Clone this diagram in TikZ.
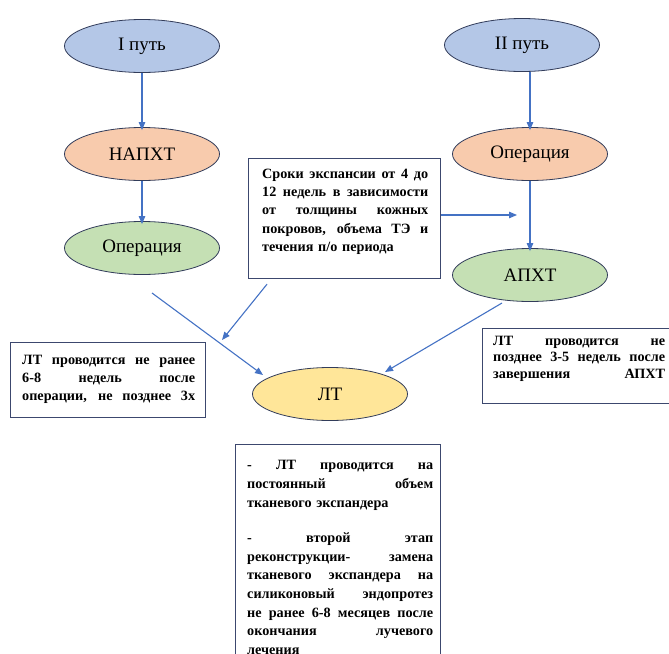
\documentclass[tikz,border=0pt]{standalone}
\usepackage{fontspec}
\setmainfont{Liberation Serif}
\usetikzlibrary{arrows.meta,shapes.geometric,calc}
\definecolor{fblue}{RGB}{180,199,231}
\definecolor{forange}{RGB}{248,203,173}
\definecolor{fgreen}{RGB}{197,224,180}
\definecolor{fyellow}{RGB}{255,230,153}
\definecolor{arr}{RGB}{68,114,196}
\definecolor{eline}{RGB}{50,60,90}
\definecolor{bline}{RGB}{60,72,110}
\newcommand\jl[1]{\par\noindent\hbox to\hsize{\spaceskip=0.25em plus 1fill minus 0.12em\relax #1}\par}
\newcommand\rl[1]{\par\noindent\hbox to\hsize{#1\hfil}\par}
\begin{document}
\begin{tikzpicture}[x=1pt,y=-1pt,
  ell/.style={ellipse,draw=eline,line width=0.8pt,minimum width=155pt,minimum height=53pt,inner sep=0pt,font=\fontsize{19}{22}\selectfont},
  tbox/.style={draw=bline,line width=1.2pt,rectangle,inner sep=0pt,anchor=north west},
  ttext/.style={inner sep=0pt,anchor=north west,font=\bfseries\fontsize{14.2}{18.2}\selectfont},
  con/.style={draw=arr,line width=1.1pt,-{Triangle[length=8pt,width=6.5pt]}}]
\useasboundingbox (0,0) rectangle (669,653);
\clip (0,0) rectangle (669,653);
% ellipses
\node[ell,fill=fblue] (i1) at (142,46) {I путь};
\node[ell,fill=forange] (n1) at (142,154) {НАПХТ};
\node[ell,fill=fgreen] (o1) at (142,248) {Операция};
\node[ell,fill=fblue] (i2) at (522,45) {II путь};
\node[ell,fill=forange] (o2) at (530,154) {Операция};
\node[ell,fill=fgreen] (a2) at (530,275) {АПХТ};
\node[ell,fill=fyellow] (lt) at (330,394) {ЛТ};
% boxes
\node[tbox,minimum width=192pt,minimum height=120pt] (b1) at (248,158) {};
\node[ttext,text width=166pt] (b1t) at (262,160) {%
\jl{Сроки экспансии от 4 до}
\jl{12 недель в зависимости}
\jl{от толщины кожных}
\jl{покровов, объема ТЭ и}
\rl{течения п/о периода}};
\node[tbox,minimum width=195pt,minimum height=75pt] (b2) at (10,342) {};
\node[ttext,text width=173pt] (b2t) at (22,346) {%
\jl{ЛТ проводится не ранее}
\jl{6-8 недель после}
\jl{операции, не позднее 3х}};
\node[tbox,minimum width=208pt,minimum height=75pt] (b3) at (482,328) {};
\node[ttext,text width=172pt,font=\bfseries\fontsize{14.2}{16.8}\selectfont] (b3t) at (493,328) {%
\jl{ЛТ проводится не}
\jl{позднее 3-5 недель после}
\jl{завершения АПХТ}};
\node[tbox,minimum width=205pt,minimum height=260pt] (b4) at (235,444) {};
\node[ttext,text width=186pt,font=\bfseries\fontsize{14.2}{18.6}\selectfont] (b4t) at (247,451) {%
\jl{- ЛТ проводится на}
\jl{постоянный объем}
\rl{тканевого экспандера}
\vspace{17pt}
\jl{- второй этап}
\jl{реконструкции- замена}
\jl{тканевого экспандера на}
\jl{силиконовый эндопротез}
\jl{не ранее 6-8 месяцев после}
\jl{окончания лучевого}
\rl{лечения}};
% connectors
\draw[con,shorten >=-3pt] (i1) -- (n1);
\draw[con,shorten >=-3pt] (n1) -- (o1);
\draw[con,shorten >=-3pt] (o2.north |- i2.south) -- (o2.north);
\draw[con,shorten >=-3pt] (o2) -- (a2);
\coordinate (c1) at (517,215);
\draw[con] (b1.east |- c1) -- (c1);
\coordinate (c2) at (222,340);
\draw[con] ([shift={(19,5)}]b1.south west) -- (c2);
\draw[con] ([shift={(10,45)}]o1.center) -- ([shift={(-67,-19)}]lt.center);
\draw[con] ([shift={(-28,28)}]a2.center) -- ([shift={(55,-22)}]lt.center);
\end{tikzpicture}
\end{document}
